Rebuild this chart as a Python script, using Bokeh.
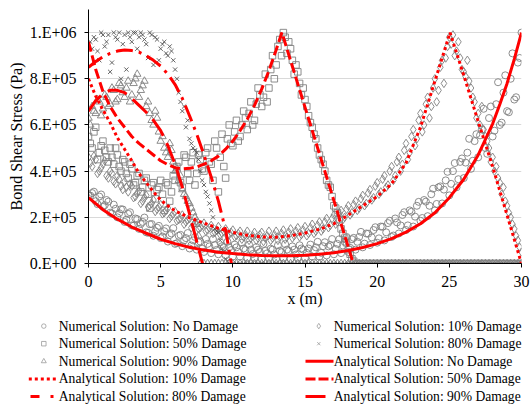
from bokeh.plotting import figure
from bokeh.models import Range1d, FixedTicker
from bokeh.layouts import column
from bokeh.embed import file_html
from bokeh.resources import INLINE
from bokeh.core.properties import value

SCALE = 1e5  # values below are in units of 1E+05 Pa

# ---------------- numerical solutions ----------------
# grid A: every 0.25 m starting at 0
NUM_X = [0, 0.25, 0.5, 0.75, 1, 1.25, 1.5, 1.75, 2, 2.25,
         2.5, 2.75, 3, 3.25, 3.5, 3.75, 4, 4.25, 4.5, 4.75,
         5, 5.25, 5.5, 5.75, 6, 6.25, 6.5, 6.75, 7, 7.25,
         7.5, 7.75, 8, 8.25, 8.5, 8.75, 9, 9.25, 9.5, 9.75,
         10, 10.25, 10.5, 10.75, 11, 11.25, 11.5, 11.75, 12, 12.25,
         12.5, 12.75, 13, 13.25, 13.5, 13.75, 14, 14.25, 14.5, 14.75,
         15, 15.25, 15.5, 15.75, 16, 16.25, 16.5, 16.75, 17, 17.25,
         17.5, 17.75, 18, 18.25, 18.5, 18.75, 19, 19.25, 19.5, 19.75,
         20, 20.25, 20.5, 20.75, 21, 21.25, 21.5, 21.75, 22, 22.25,
         22.5, 22.75, 23, 23.25, 23.5, 23.75, 24, 24.25, 24.5, 24.75,
         25, 25.25, 25.5, 25.75, 26, 26.25, 26.5, 26.75, 27, 27.25,
         27.5, 27.75, 28, 28.25, 28.5, 28.75, 29, 29.25, 29.5, 29.75,
         30]
# grid B: in between, starting at 0.125 m
NUM_X2 = [0.125, 0.375, 0.625, 0.875, 1.125, 1.375, 1.625, 1.875, 2.125, 2.375,
          2.625, 2.875, 3.125, 3.375, 3.625, 3.875, 4.125, 4.375, 4.625, 4.875,
          5.125, 5.375, 5.625, 5.875, 6.125, 6.375, 6.625, 6.875, 7.125, 7.375,
          7.625, 7.875, 8.125, 8.375, 8.625, 8.875, 9.125, 9.375, 9.625, 9.875,
          10.125, 10.375, 10.625, 10.875, 11.125, 11.375, 11.625, 11.875, 12.125, 12.375,
          12.625, 12.875, 13.125, 13.375, 13.625, 13.875, 14.125, 14.375, 14.625, 14.875,
          15.125, 15.375, 15.625, 15.875, 16.125, 16.375, 16.625, 16.875, 17.125, 17.375,
          17.625, 17.875, 18.125, 18.375, 18.625, 18.875, 19.125, 19.375, 19.625, 19.875,
          20.125, 20.375, 20.625, 20.875, 21.125, 21.375, 21.625, 21.875, 22.125, 22.375,
          22.625, 22.875, 23.125, 23.375, 23.625, 23.875, 24.125, 24.375, 24.625, 24.875,
          25.125, 25.375, 25.625, 25.875, 26.125, 26.375, 26.625, 26.875, 27.125, 27.375,
          27.625, 27.875, 28.125, 28.375, 28.625, 28.875, 29.125, 29.375, 29.625, 29.875]

NUM_NO_DMG = [2.95, 3.05, 2.7, 2.9, 2.45, 2.75, 2.2, 2.55, 2.0, 2.35,
              1.8, 2.15, 1.65, 1.95, 1.5, 1.8, 1.35, 1.7, 1.2, 1.55,
              1.1, 1.4, 0.95, 1.3, 0.85, 1.2, 0.75, 1.1, 0.65, 1.0,
              0.6, 0.95, 0.5, 0.85, 0.45, 0.8, 0.4, 0.75, 0.35, 0.7,
              0.3, 0.7, 0.3, 0.65, 0.25, 0.6, 0.25, 0.6, 0.2, 0.55,
              0.25, 0.6, 0.2, 0.55, 0.25, 0.6, 0.2, 0.6, 0.25, 0.65,
              0.25, 0.65, 0.3, 0.7, 0.3, 0.75, 0.35, 0.8, 0.4, 0.85,
              0.45, 0.95, 0.5, 1.05, 0.6, 1.15, 0.7, 1.3, 0.8, 1.45,
              0.9, 1.6, 1.0, 1.75, 1.15, 1.95, 1.3, 2.1, 1.45, 2.3,
              1.6, 2.5, 1.85, 2.75, 2.05, 3.0, 2.3, 3.3, 2.6, 3.6,
              2.95, 4.0, 3.3, 4.4, 3.7, 4.8, 4.1, 5.3, 4.6, 5.8,
              5.0, 6.3, 5.5, 6.9, 6.0, 7.4, 6.6, 8.0, 7.1, 8.7,
              10.0]
NUM_NO_DMG_B = [2.94, 3.11, 2.57, 2.99, 2.53, 2.68, 2.17, 2.37, 2.18, 2.34,
                1.9, 2.22, 1.64, 1.92, 1.71, 1.99, 1.33, 1.71, 1.4, 1.63,
                1.17, 1.52, 1.23, 1.53, 0.88, 1.24, 1.0, 1.32, 0.78, 1.15,
                0.92, 0.64, 1.06, 0.74, 1.06, 0.59, 0.92, 0.71, 0.94, 0.58,
                0.82, 0.51, 0.9, 0.59, 0.82, 0.41, 0.71, 0.5, 0.85, 0.44,
                0.64, 0.39, 0.79, 0.49, 0.84, 0.54, 0.74, 0.39, 0.79, 0.6,
                0.46, 0.82, 0.58, 0.94, 0.46, 0.92, 0.74, 1.06, 0.63, 1.05,
                0.78, 1.15, 0.68, 1.11, 0.94, 1.37, 0.86, 1.29, 1.13, 1.57,
                1.09, 1.59, 1.35, 1.85, 1.21, 1.78, 1.65, 2.22, 1.65, 2.24,
                2.03, 2.67, 1.97, 2.68, 2.5, 3.24, 2.58, 3.34, 3.2, 3.97,
                3.45, 4.35, 3.65, 4.55, 4.37, 5.4, 4.45, 5.6, 5.55, 6.7,
                4.75, 6.8, 5.75, 7.85, 6.1, 8.15, 6.55, 9.1, 7.2, 8.9]

NUM_D10 = [4.6, 4.2, 4.5, 4.0, 4.3, 3.8, 4.0, 3.55, 3.8, 3.35,
           3.55, 3.1, 3.35, 2.9, 3.15, 2.7, 2.95, 2.5, 2.75, 2.35,
           2.55, 2.2, 2.4, 2.05, 2.25, 1.9, 2.1, 1.8, 1.95, 1.65,
           1.85, 1.55, 1.75, 1.45, 1.65, 1.35, 1.6, 1.3, 1.5, 1.25,
           1.45, 1.2, 1.4, 1.15, 1.4, 1.1, 1.35, 1.1, 1.35, 1.1,
           1.4, 1.1, 1.4, 1.15, 1.45, 1.15, 1.5, 1.2, 1.55, 1.25,
           1.6, 1.3, 1.7, 1.4, 1.8, 1.5, 1.95, 1.65, 2.1, 1.8,
           2.3, 2.0, 2.5, 2.2, 2.7, 2.4, 2.95, 2.6, 3.2, 2.85,
           3.5, 3.1, 3.8, 3.4, 4.2, 3.8, 4.6, 4.3, 5.2, 4.8,
           5.8, 5.4, 6.5, 6.0, 7.2, 6.8, 8.0, 7.5, 8.8, 8.9,
           9.8, 9.9, 9.2, 8.9, 8.3, 8.8, 7.6, 7.0, 6.5, 6.8,
           5.5, 5.0, 4.6, 4.2, 3.5, 3.3, 2.5, 2.0, 1.5, 1.0,
           0.5]
NUM_D10_B = [4.35, 4.65, 3.9, 4.15, 4.45, 3.7, 3.9, 3.45, 3.65, 3.2,
             3.3, 3.45, 2.85, 3.05, 2.6, 2.85, 2.45, 2.6, 2.25, 2.45,
             2.15, 2.3, 1.95, 2.15, 1.85, 1.95, 1.7, 1.9, 1.55, 1.75,
             1.5, 1.65, 1.4, 1.55, 1.3, 1.45, 1.25, 1.4, 1.2, 1.35,
             1.15, 1.3, 1.05, 1.25, 1.0, 1.2, 1.0, 1.25, 0.95, 1.2,
             1.0, 1.25, 1.0, 1.3, 1.05, 1.35, 1.1, 1.4, 1.15, 1.45,
             1.2, 1.55, 1.3, 1.65, 1.4, 1.8, 1.55, 1.95, 1.7, 2.15,
             1.9, 2.35, 2.1, 2.55, 2.3, 2.8, 2.5, 3.05, 2.75, 3.35,
             3.0, 3.65, 3.3, 4.0, 3.6, 4.4, 4.0, 4.9, 4.5, 5.5,
             5.1, 6.2, 5.7, 6.9, 6.3, 7.6, 7.0, 8.5, 7.8, 9.4,
             9.5, 9.0, 9.6, 8.4, 8.1, 7.9, 7.2, 6.3, 6.0, 5.8,
             5.3, 4.4, 4.0, 3.7, 3.0, 2.7, 2.2, 1.7, 1.2, 0.7]

NUM_D50 = [5.5, 5.0, 5.9, 4.8, 5.3, 4.6, 5.0, 4.3, 4.7, 4.0,
           4.4, 3.7, 4.1, 3.5, 3.9, 3.3, 3.7, 2.4, 3.5, 3.2,
           3.6, 2.3, 3.4, 3.1, 3.6, 4.4, 3.3, 4.6, 3.6, 4.8,
           3.9, 4.5, 4.0, 5.0, 4.3, 5.3, 3.1, 5.6, 3.7, 6.0,
           5.1, 6.2, 5.5, 6.6, 5.8, 7.0, 6.2, 7.6, 6.8, 8.2,
           7.6, 9.0, 8.6, 9.7, 10.0, 9.1, 9.3, 8.2, 8.3, 7.3,
           7.1, 6.4, 5.9, 5.4, 4.7, 4.3, 3.6, 3.3, 2.5, 2.2,
           1.5, 1.1, 0.6, 0.2, 0, 0, 0, 0, 0, 0,
           0, 0, 0, 0, 0, 0, 0, 0, 0, 0,
           0, 0, 0, 0, 0, 0, 0, 0, 0, 0,
           0, 0, 0, 0, 0, 0, 0, 0, 0, 0,
           0, 0, 0, 0, 0, 0, 0, 0, 0, 0,
           0]
NUM_D50_B = [5.2, 5.7, 4.5, 5.1, 4.9, 4.4, 4.6, 5.0, 4.2, 4.5,
             3.9, 4.3, 3.4, 3.8, 3.1, 3.6, 3.0, 3.4, 2.8, 3.3,
             3.0, 3.5, 2.7, 3.8, 4.2, 3.5, 4.7, 3.9, 4.4, 3.4,
             4.7, 4.1, 4.8, 4.4, 3.6, 5.0, 4.6, 4.2, 5.4, 5.2,
             5.7, 5.3, 6.0, 6.3, 6.5, 6.0, 6.9, 7.3, 7.2, 7.0,
             8.4, 8.0, 9.4, 9.0, 9.8, 9.6, 8.8, 8.6, 7.8, 7.6,
             6.8, 6.1, 5.6, 5.0, 4.5, 4.0, 3.4, 2.9, 2.4, 1.9,
             1.3, 0.9, 0.4, 0.1]

NUM_D80 = [9.5, 9.3, 9.7, 8.8, 9.9, 9.6, 8.3, 10.0, 9.7, 8.0,
           9.9, 10.0, 9.6, 10.0, 9.8, 9.9, 9.5, 10.0, 8.6, 9.7,
           9.3, 9.6, 9.0, 9.2, 8.4, 7.4, 6.6, 5.9, 5.4, 5.0,
           4.8, 4.0, 3.4, 2.9, 2.3, 1.5, 1.35, 0.65, 0.2, 0,
           0, 0, 0, 0, 0, 0, 0, 0, 0, 0,
           0, 0, 0, 0, 0, 0, 0, 0, 0, 0,
           0, 0, 0, 0, 0, 0, 0, 0, 0, 0,
           0, 0, 0, 0, 0, 0, 0, 0, 0, 0,
           0, 0, 0, 0, 0, 0, 0, 0, 0, 0,
           0, 0, 0, 0, 0, 0, 0, 0, 0, 0,
           0, 0, 0, 0, 0, 0, 0, 0, 0, 0,
           0, 0, 0, 0, 0, 0, 0, 0, 0, 0,
           0]
NUM_D80_B = [9.6, 9.8, 9.2, 10.0, 9.4, 9.9, 8.7, 9.8, 10.0, 9.5,
             8.4, 9.8, 10.0, 9.3, 10.0, 9.7, 8.9, 9.9, 9.8, 8.8,
             9.5, 9.1, 9.4, 8.8, 8.0, 7.0, 6.8, 6.2, 5.2, 4.9,
             4.5, 3.6, 3.1, 2.6, 2.0, 1.4, 1.0, 0.5, 0.1]

NUM_D90 = [6.3, 6.8, 6.5, 7.0, 6.7, 7.2, 6.9, 7.5, 7.1, 7.7,
           7.2, 7.9, 7.3, 8.0, 7.2, 7.7, 6.8, 6.5, 6.0, 6.3,
           5.3, 5.0, 4.6, 4.9, 4.0, 3.6, 3.2, 2.9, 2.6, 2.2,
           1.7, 0, 0, 0, 0, 0, 0, 0, 0, 0,
           0, 0, 0, 0, 0, 0, 0, 0, 0, 0,
           0, 0, 0, 0, 0, 0, 0, 0, 0, 0,
           0, 0, 0, 0, 0, 0, 0, 0, 0, 0,
           0, 0, 0, 0, 0, 0, 0, 0, 0, 0,
           0, 0, 0, 0, 0, 0, 0, 0, 0, 0,
           0, 0, 0, 0, 0, 0, 0, 0, 0, 0,
           0, 0, 0, 0, 0, 0, 0, 0, 0, 0,
           0, 0, 0, 0, 0, 0, 0, 0, 0, 0,
           0]
NUM_D90_B = [6.0, 6.6, 7.1, 6.4, 7.3, 6.8, 7.6, 7.0, 7.8, 7.4,
             7.6, 7.0, 7.8, 8.2, 7.5, 7.9, 7.0, 6.2, 6.6, 5.7,
             5.5, 4.8, 5.2, 4.4, 4.1, 3.8, 3.0, 2.7, 2.4, 2.0,
             1.2]

# ---------------- analytical solutions ----------------
AN_NO_X = [0, 1, 2, 3, 4, 5, 6, 7, 8, 9, 10, 11, 12, 13, 14, 15, 16, 17, 18,
           19, 20, 21, 22, 23, 24, 25, 26, 27, 28, 28.5, 29, 29.5, 30]
AN_NO_Y = [2.85, 2.33, 1.92, 1.58, 1.31, 1.05, 0.86, 0.7, 0.58, 0.49, 0.43,
           0.38, 0.35, 0.335, 0.335, 0.355, 0.4, 0.47, 0.56, 0.69, 0.86, 1.08,
           1.36, 1.72, 2.2, 2.85, 3.65, 4.7, 6.05, 6.9, 7.8, 8.85, 10.0]

AN_10_X = [0, 0.5, 1, 1.5, 2, 2.5, 3, 3.5, 4, 4.5, 5, 5.5, 6, 7, 8, 9, 10, 11,
           12, 13, 14, 15, 16, 17, 18, 19, 20, 21, 22, 23, 24, 25.05, 26, 27,
           28, 29, 30]
AN_10_Y = [8.0, 7.25, 6.65, 6.1, 5.45, 4.95, 4.45, 3.9, 3.5, 3.1, 2.75, 2.5,
           2.28, 1.98, 1.75, 1.52, 1.35, 1.22, 1.15, 1.14, 1.2, 1.32, 1.48,
           1.72, 2.1, 2.5, 2.9, 3.45, 4.35, 5.9, 7.9, 10.0, 8.15, 6.15, 4.2,
           2.1, 0.0]

AN_50_X = [0, 0.5, 1, 1.5, 2, 2.5, 3, 3.5, 4, 4.5, 5, 5.5, 6, 6.5, 7, 7.5, 8,
           8.5, 9, 9.5, 10, 10.5, 11, 11.5, 12, 12.5, 13, 13.4, 18.35]
AN_50_Y = [9.6, 8.4, 7.45, 6.8, 6.3, 5.9, 5.5, 5.2, 4.95, 4.7, 4.45, 4.28,
           4.15, 4.1, 4.12, 4.18, 4.3, 4.45, 4.65, 4.95, 5.3, 5.75, 6.25, 6.85,
           7.55, 8.35, 9.25, 10.0, 0.0]

AN_80_X = [0, 0.5, 1, 1.5, 2, 2.5, 3, 3.5, 4, 4.5, 5, 5.5, 6, 6.5, 7, 7.5, 8,
           8.5, 9, 9.5, 9.9]
AN_80_Y = [8.5, 8.75, 8.95, 9.1, 9.2, 9.25, 9.22, 9.15, 9.0, 8.8, 8.55, 8.2,
           7.75, 7.15, 6.4, 5.6, 4.7, 3.75, 2.7, 1.45, 0.0]

AN_90_X = [0, 0.5, 1, 1.5, 2, 2.5, 3, 3.5, 4, 4.5, 5, 5.5, 6, 6.5, 7, 7.5, 7.9]
AN_90_Y = [6.6, 7.05, 7.35, 7.5, 7.5, 7.4, 7.15, 6.85, 6.55, 6.2, 5.75, 5.1,
           4.3, 3.3, 2.15, 0.95, 0.0]

X_TICKS = [0, 5, 10, 15, 20, 25, 30]
Y_TICKS = [0, 200000, 400000, 600000, 800000, 1000000]
Y_TICK_LABELS = ["0.E+00", "2.E+05", "4.E+05", "6.E+05", "8.E+05", "1.E+06"]

LEGEND_LEFT = ["Numerical Solution: No Damage", "Numerical Solution: 50% Damage",
               "Numerical Solution: 90% Damage", "Analytical Solution: 10% Damage",
               "Analytical Solution: 80% Damage"]
LEGEND_RIGHT = ["Numerical Solution: 10% Damage", "Numerical Solution: 80% Damage",
                "Analytical Solution: No Damage", "Analytical Solution: 50% Damage",
                "Analytical Solution: 90% Damage"]

FONT = "Liberation Serif"
AXIS_FONT = "'Liberation Serif', 'Times New Roman', serif"
GRAY = "#808080"
RED = "#ff0000"
W = 531


def scaled(vals):
    return [v * SCALE for v in vals]


def pts(xs, vals):
    n = min(len(xs), len(vals))
    return xs[:n], scaled(vals[:n])


p = figure(width=W, height=310, x_range=Range1d(0, 30), y_range=Range1d(0, 1.1e6),
           output_backend="svg", toolbar_location=None,
           min_border_left=88, min_border_right=10, min_border_top=9, min_border_bottom=47)
p.frame_align = False
p.outline_line_color = None
p.background_fill_color = "white"
p.border_fill_color = "white"

# numerical markers
MK = dict(fill_color=None, line_color=GRAY, line_width=0.9)
for xs, vals in ((NUM_X, NUM_NO_DMG), (NUM_X2, NUM_NO_DMG_B)):
    p.scatter(*pts(xs, vals), marker="circle", size=7, **MK)
for xs, vals in ((NUM_X, NUM_D10), (NUM_X2, NUM_D10_B)):
    p.scatter(*pts(xs, vals), marker="diamond", size=8.5, **MK)
for xs, vals in ((NUM_X, NUM_D50), (NUM_X2, NUM_D50_B)):
    p.scatter(*pts(xs, vals), marker="square", size=6.5, **MK)
for xs, vals in ((NUM_X, NUM_D80), (NUM_X2, NUM_D80_B)):
    p.scatter(*pts(xs, vals), marker="x", size=6, fill_color=None, line_color="#555555", line_width=0.9)
for xs, vals in ((NUM_X, NUM_D90), (NUM_X2, NUM_D90_B)):
    p.scatter(*pts(xs, vals), marker="triangle", size=7.5, **MK)

# analytical lines
p.line(AN_NO_X, scaled(AN_NO_Y), line_color=RED, line_width=3)
p.line(AN_10_X, scaled(AN_10_Y), line_color=RED, line_width=3, line_dash="3 3")
p.line(AN_50_X, scaled(AN_50_Y), line_color=RED, line_width=3, line_dash="10 4")
p.line(AN_80_X, scaled(AN_80_Y), line_color=RED, line_width=3, line_dash="17 6 3 6")
p.line(AN_90_X, scaled(AN_90_Y), line_color=RED, line_width=3, line_dash="20 8")

# axes
p.xaxis.ticker = FixedTicker(ticks=X_TICKS)
p.yaxis.ticker = FixedTicker(ticks=Y_TICKS)
p.yaxis.major_label_overrides = {t: s for t, s in zip(Y_TICKS, Y_TICK_LABELS)}
p.xgrid.visible = False
p.ygrid.grid_line_color = "#d9d9d9"
p.ygrid.grid_line_width = 1

p.axis.axis_line_color = "black"
p.axis.major_tick_line_color = "black"
p.axis.major_tick_out = 4
p.axis.major_tick_in = 0
p.axis.minor_tick_line_color = None
p.axis.major_label_text_font = AXIS_FONT
p.axis.major_label_text_font_size = "16px"
p.axis.major_label_text_color = "black"
p.axis.axis_label_text_font = AXIS_FONT
p.axis.axis_label_text_font_size = "16px"
p.axis.axis_label_text_font_style = "normal"
p.axis.axis_label_text_color = "black"
p.xaxis.axis_label = "x (m)"
p.yaxis.axis_label = "Bond Shear Stress (Pa)"
p.xaxis.major_label_standoff = 8
p.xaxis.axis_label_standoff = 0
p.yaxis.major_label_standoff = 8
p.yaxis.axis_label_standoff = 2

# ---------------- legend panel ----------------
LH = 104
leg = figure(width=W, height=LH, x_range=Range1d(0, W), y_range=Range1d(LH, 0),
             output_backend="svg", toolbar_location=None,
             min_border_left=0, min_border_right=0, min_border_top=0, min_border_bottom=0,
             x_axis_type=None, y_axis_type=None)
leg.frame_align = False
leg.outline_line_color = None
leg.background_fill_color = "white"
leg.border_fill_color = "white"

rows = [15.6, 33.2, 50.8, 68.4, 86.0]
LX_MARK, LX_TEXT, LX_L0, LX_L1 = 43.3, 58.3, 28.3, 56.7
RX_MARK, RX_TEXT, RX_L0, RX_L1 = 318.3, 333.3, 305, 333
LGRAY = "#9a9a9a"

leg.scatter([LX_MARK], [rows[0]], marker="circle", size=4.5, fill_color=None, line_color=LGRAY, line_width=0.8)
leg.scatter([LX_MARK], [rows[1]], marker="square", size=4.5, fill_color=None, line_color=LGRAY, line_width=0.8)
leg.scatter([LX_MARK], [rows[2]], marker="triangle", size=5, fill_color=None, line_color=LGRAY, line_width=0.8)
leg.line([LX_L0, LX_L1], [rows[3], rows[3]], line_color=RED, line_width=3, line_dash="3 3")
leg.line([30, 56], [rows[4], rows[4]], line_color=RED, line_width=3, line_dash="9 11 3 20")

leg.scatter([RX_MARK], [rows[0]], marker="diamond", size=5.5, fill_color=None, line_color=LGRAY, line_width=0.8)
leg.scatter([RX_MARK], [rows[1]], marker="x", size=4.5, fill_color=None, line_color=LGRAY, line_width=0.8)
leg.line([RX_L0, RX_L1], [rows[2], rows[2]], line_color=RED, line_width=3)
leg.line([RX_L0, RX_L1], [rows[3], rows[3]], line_color=RED, line_width=3, line_dash="10 3")
leg.line([RX_L0, RX_L1], [rows[4], rows[4]], line_color=RED, line_width=3, line_dash="20 8")

leg.text(x=[LX_TEXT] * 5, y=rows, text=LEGEND_LEFT, text_font=value(FONT),
         text_font_size="13.6px", text_baseline="middle", text_align="left", text_color="black")
leg.text(x=[RX_TEXT] * 5, y=rows, text=LEGEND_RIGHT, text_font=value(FONT),
         text_font_size="13.6px", text_baseline="middle", text_align="left", text_color="black")

layout = column(p, leg, spacing=0)
open("out.html", "w").write(file_html(layout, INLINE))
